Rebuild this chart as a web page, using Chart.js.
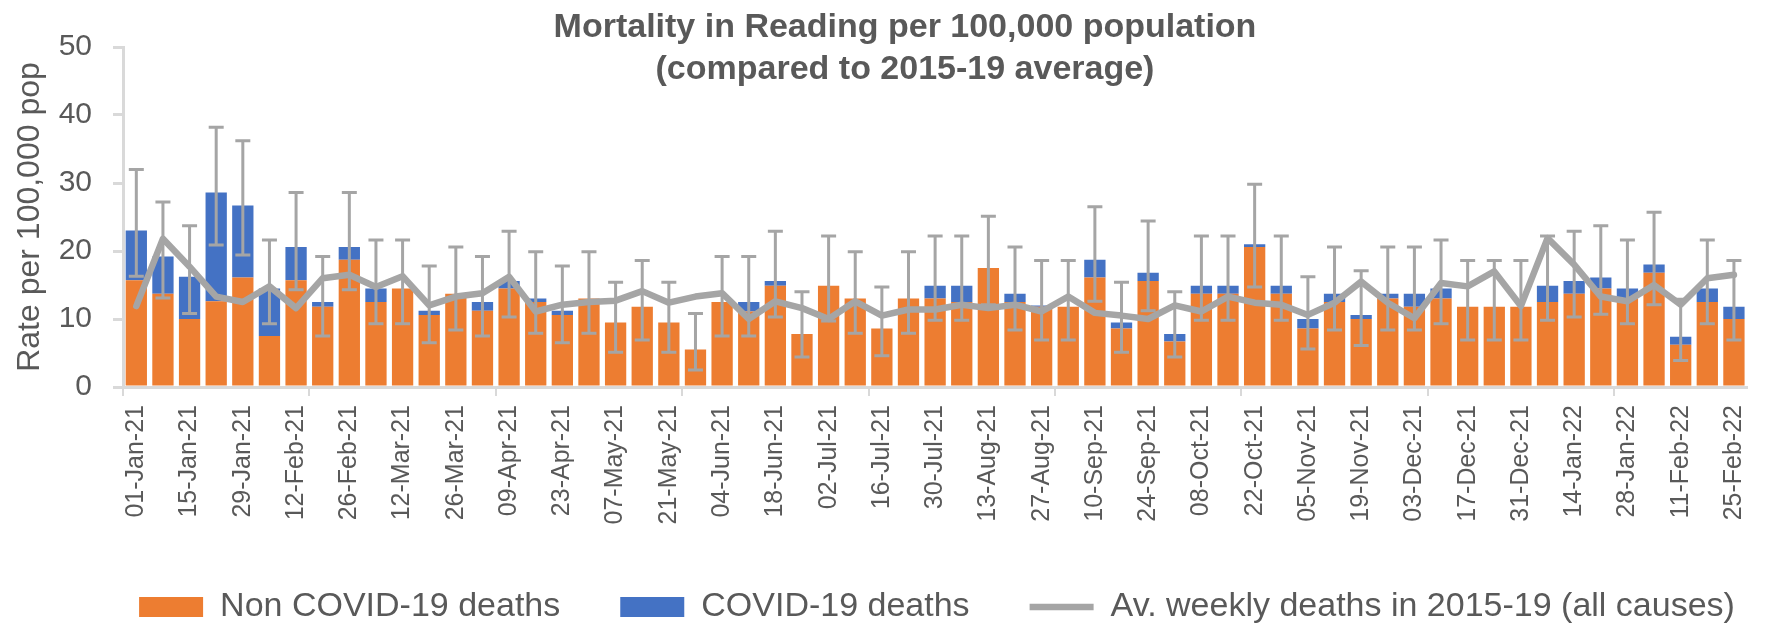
<!DOCTYPE html>
<html>
<head>
<meta charset="utf-8">
<title>Mortality in Reading</title>
<script src="https://cdn.jsdelivr.net/npm/chart.js@4.4.1/dist/chart.umd.min.js"></script>
<style>
  body { margin: 0; background: #fff; }
  #wrap { position: relative; width: 1773px; height: 626px; }
  #title {
    position: absolute; left: 405px; top: 4px; width: 1000px;
    text-align: center; color: #595959;
    font: bold 34px/42px "Liberation Sans", Arial, sans-serif;
    pointer-events: none;
  }
</style>
</head>
<body>
<div id="wrap">
  <canvas id="mortalityChart" width="1773" height="626"></canvas>
  <div id="title">Mortality in Reading per 100,000 population<br>(compared to 2015-19 average)</div>
</div>
<script>
const weeks = ['01-Jan-21','08-Jan-21','15-Jan-21','22-Jan-21','29-Jan-21','05-Feb-21','12-Feb-21','19-Feb-21','26-Feb-21',
  '05-Mar-21','12-Mar-21','19-Mar-21','26-Mar-21','02-Apr-21','09-Apr-21','16-Apr-21','23-Apr-21','30-Apr-21',
  '07-May-21','14-May-21','21-May-21','28-May-21','04-Jun-21','11-Jun-21','18-Jun-21','25-Jun-21',
  '02-Jul-21','09-Jul-21','16-Jul-21','23-Jul-21','30-Jul-21','06-Aug-21','13-Aug-21','20-Aug-21','27-Aug-21',
  '03-Sep-21','10-Sep-21','17-Sep-21','24-Sep-21','01-Oct-21','08-Oct-21','15-Oct-21','22-Oct-21','29-Oct-21',
  '05-Nov-21','12-Nov-21','19-Nov-21','26-Nov-21','03-Dec-21','10-Dec-21','17-Dec-21','24-Dec-21','31-Dec-21',
  '07-Jan-22','14-Jan-22','21-Jan-22','28-Jan-22','04-Feb-22','11-Feb-22','18-Feb-22','25-Feb-22']

const nonCovidRates = [15.7,13.7,10.0,12.6,16.1,7.5,15.7,11.8,18.7,12.5,14.5,10.6,13.7,11.2,14.5,12.5,10.6,13.0,
  9.5,11.8,9.5,5.5,12.5,11.1,14.9,7.8,14.9,13.0,8.6,13.0,13.0,12.5,17.5,12.5,11.8,11.8,16.1,8.6,15.6,6.7,
  13.7,13.7,20.6,13.7,8.6,12.5,10.0,13.0,11.8,13.0,11.8,11.8,11.8,12.5,13.7,14.5,13.0,16.8,6.2,12.5,10.0]

const covidRates = [7.3,5.5,6.2,16.0,10.6,7.0,4.9,0.7,1.9,2.0,0,0.6,0,1.3,1.1,0.5,0.6,0,
  0,0,0,0,0,1.4,0.7,0,0,0,0,0,1.9,2.4,0,1.2,0.2,0,2.6,0.9,1.2,1.1,
  1.2,1.2,0.4,1.2,1.4,1.2,0.6,0.7,1.9,1.5,0,0,0,2.4,1.9,1.6,1.5,1.2,1.2,2.0,1.8]

const baselineRates = [11.9,21.8,17.7,13.3,12.5,14.8,11.6,16.0,16.5,14.7,16.3,12.0,13.3,13.8,16.2,11.1,12.1,12.5,
  12.7,14.1,12.4,13.3,13.8,10.0,12.6,11.6,10.0,12.6,10.5,11.4,11.4,12.1,11.6,12.1,11.1,13.3,10.9,10.5,10.0,12.0,
  11.1,13.3,12.4,12.1,10.6,12.4,15.5,12.4,10.1,15.3,14.8,17.0,11.9,21.9,18.0,13.3,12.6,15.0,12.1,16.0,16.5]

const ciUpper = [32.0,27.2,23.7,38.2,36.2,21.6,28.6,19.2,28.6,21.6,21.6,17.8,20.6,19.2,22.9,19.9,17.8,19.9,
  15.4,18.6,15.4,10.8,19.2,19.2,22.9,14.0,22.2,19.9,14.7,19.9,22.2,22.2,25.1,20.6,18.6,18.6,26.5,15.4,24.4,14.0,
  22.2,22.2,29.8,22.2,16.2,20.6,17.1,20.6,20.6,21.6,18.6,18.6,18.6,22.2,22.9,23.7,21.6,25.7,12.9,21.6,18.6]

const ciLower = [16.3,13.1,10.8,20.9,19.4,9.3,14.3,7.5,14.3,9.3,9.3,6.5,8.4,7.5,10.3,7.9,6.5,7.9,
  5.1,6.9,5.1,2.5,7.5,7.5,10.3,4.4,9.7,7.9,4.6,7.9,9.8,9.8,12.1,8.4,6.9,6.9,12.6,5.1,11.2,4.4,
  9.8,9.8,14.7,9.8,5.6,8.4,6.1,8.4,8.4,9.3,6.9,6.9,6.9,9.8,10.3,10.7,9.3,12.1,3.9,9.3,6.9]

const yMin = 0
const yMax = 50
const yStep = 10

Chart.defaults.font.family = "'Liberation Sans', Arial, sans-serif"
Chart.defaults.color = '#595959'

// confidence interval whiskers, drawn just before the average line
const errorBars = {
  id: 'errorBars',
  beforeDatasetDraw(chart, args) {
    if (args.index !== 2) return
    const ctx = chart.ctx
    const xScale = chart.scales.x
    const yScale = chart.scales.y
    ctx.save()
    ctx.strokeStyle = '#A5A5A5'
    ctx.lineWidth = 3
    ciUpper.forEach(function(hi, i) {
      const cx = xScale.getPixelForValue(i)
      const top = yScale.getPixelForValue(hi)
      const bottom = yScale.getPixelForValue(ciLower[i])
      ctx.beginPath()
      ctx.moveTo(cx, top)
      ctx.lineTo(cx, bottom)
      ctx.moveTo(cx - 7.5, top)
      ctx.lineTo(cx + 7.5, top)
      ctx.moveTo(cx - 7.5, bottom)
      ctx.lineTo(cx + 7.5, bottom)
      ctx.stroke()
    })
    ctx.restore()
  }
}

// the legend row sits a bit right of centre in the original
const legendShift = {
  id: 'legendShift',
  afterLayout(chart) {
    chart.legend.left += 55
    chart.legend.right += 55
  }
}

new Chart(document.getElementById('mortalityChart'), {
  type: 'bar',
  data: {
    labels: weeks,
    datasets: [{
      label: 'Non COVID-19 deaths',
      data: nonCovidRates,
      backgroundColor: '#ED7D31',
      borderWidth: 0,
      pointStyle: 'rect',
      order: 1
    }, {
      label: 'COVID-19 deaths',
      data: covidRates,
      backgroundColor: '#4472C4',
      borderWidth: 0,
      pointStyle: 'rect',
      order: 1
    }, {
      type: 'line',
      label: 'Av. weekly deaths in 2015-19 (all causes)',
      data: baselineRates,
      borderColor: '#A5A5A5',
      backgroundColor: '#A5A5A5',
      borderWidth: 6.5,
      borderCapStyle: 'round',
      borderJoinStyle: 'round',
      pointRadius: 0,
      pointStyle: 'line',
      tension: 0,
      order: 0
    }]
  },
  options: {
    responsive: false,
    animation: false,
    categoryPercentage: 1,
    barPercentage: 0.8,
    layout: { padding: { top: 47, right: 9, left: 0, bottom: -8 } },
    plugins: {
      tooltip: { enabled: false },
      legend: {
        position: 'bottom',
        labels: {
          usePointStyle: true,
          pointStyleWidth: 64,
          boxHeight: 20,
          padding: 60,
          color: '#595959',
          font: { size: 34 },
          sort: function(a, b) { return a.datasetIndex - b.datasetIndex }
        }
      }
    },
    scales: {
      x: {
        stacked: true,
        border: { color: '#D9D9D9', width: 3 },
        grid: {
          drawOnChartArea: false,
          tickLength: 9,
          lineWidth: 2,
          color: function(ctx) { return ctx.index % 7 === 0 ? '#D9D9D9' : 'rgba(0,0,0,0)' }
        },
        ticks: {
          autoSkip: false,
          maxRotation: 90,
          minRotation: 90,
          padding: 9,
          color: '#595959',
          font: { size: 25 },
          callback: function(value, index) { return index % 2 === 0 ? weeks[index] : '' }
        },
        afterFit: function(scale) { scale.height = 143 }
      },
      y: {
        stacked: true,
        min: yMin,
        max: yMax,
        border: { color: '#D9D9D9', width: 3 },
        grid: { drawOnChartArea: false, tickLength: 10, lineWidth: 3, color: '#D9D9D9' },
        ticks: { stepSize: yStep, padding: 21, color: '#595959', font: { size: 30 } },
        title: {
          display: true,
          text: 'Rate per 100,000 pop',
          color: '#595959',
          font: { size: 32 },
          padding: { top: 11, bottom: 0 }
        },
        afterFit: function(scale) { scale.width = 123 }
      }
    }
  },
  plugins: [errorBars, legendShift]
})
</script>
</body>
</html>
